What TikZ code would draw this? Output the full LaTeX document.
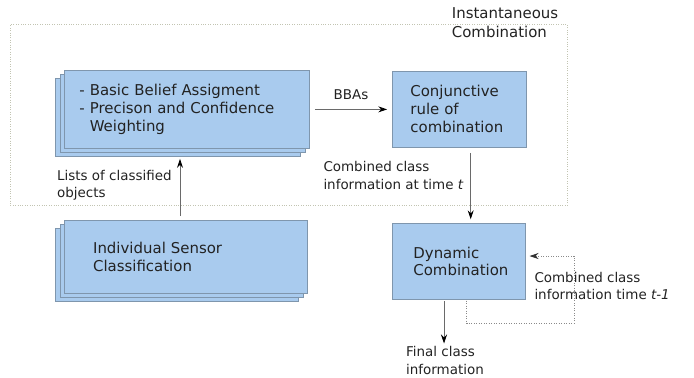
\documentclass[tikz,border=0pt]{standalone}
\usepackage{fontspec}
\setmainfont{DejaVu Sans}
\usetikzlibrary{shadows,arrows.meta,calc}
\definecolor{boxfill}{HTML}{A9CBEE}
\definecolor{boxdraw}{HTML}{7F96AD}
\definecolor{framec}{HTML}{C2C4B2}
\definecolor{linec}{HTML}{6A6A6A}
\definecolor{fbc}{HTML}{8A8A8A}
\definecolor{txt}{HTML}{222222}
\newcommand\boxfont{\fontsize{15}{18}\selectfont}
\newcommand\lblfont{\fontsize{13.5}{17.8}\selectfont}
\newcommand\ttlfont{\fontsize{15}{19}\selectfont}
\begin{document}
\begin{tikzpicture}[x=1bp,y=-1bp,
  box/.style={draw=boxdraw, fill=boxfill, line width=0.8bp, align=left, font=\boxfont, text=txt, anchor=north west},
  stack/.style={box, double copy shadow={shadow xshift=-4.5bp, shadow yshift=-4bp, fill=boxfill, draw=boxdraw, line width=0.8bp}},
  lbl/.style={inner sep=0pt, anchor=north west, align=left, font=\lblfont, text=txt},
  arr/.style={draw=linec, line width=0.8bp, -{Stealth[length=9bp,width=6bp,inset=3bp,color=black]}},
  fb/.style={draw=fbc, line width=0.8bp, dash pattern=on 1bp off 1.5bp, -{Stealth[length=9bp,width=6bp,inset=3bp,color=black!80]}},
  framebox/.style={draw=framec, line width=0.8bp, dash pattern=on 0.8bp off 1.6bp, inner sep=0pt, anchor=north west},
]
\useasboundingbox (0,0) rectangle (694,377);

% frame of the instantaneous combination
\node[framebox, minimum width=557bp, minimum height=181bp] (frame) at (10,24) {};
\node[inner sep=0pt, anchor=north west, align=left, font=\ttlfont, text=txt] (title) at (451.7,7.1) {Instantaneous\\Combination};

% boxes
\node[stack, minimum width=245bp, minimum height=78bp, inner xsep=15bp, text width=215bp] (bba) at (64,70)
  {- Basic Belief Assigment\\- Precison and Confidence\\\phantom{- }Weighting};
\node[box, minimum width=134.3bp, minimum height=76bp, inner xsep=18.3bp, text width=97.7bp] (conj) at (391.7,70.7)
  {Conjunctive\\rule of\\combination};
\node[box, minimum width=133bp, minimum height=76.6bp, inner xsep=21.3bp, text width=90.4bp] (dyn) at (391.7,222.7)
  {Dynamic\\Combination};
\node[stack, minimum width=243bp, minimum height=73.3bp, inner xsep=28.7bp, text width=185.6bp] (sens) at (64,220)
  {Individual Sensor\\Classification};

% connectors
\draw[arr] ($(bba.east)+(5,0)$) -- node[midway, above=9bp, inner sep=0pt, font=\lblfont, text=txt] (bbas) {BBAs} ($(bba.east -| conj.west)+(-4.5,0)$);
\draw[arr] ($(conj.south west)+(79,5.3)$) -- ($(dyn.north west)+(79,-3.4)$);
\draw[arr] ($(sens.north west)+(116,-4)$) -- ($(bba.south west)+(116,10)$);

\coordinate (f1) at ($(dyn.south west)+(75,0.5)$);
\coordinate (f2) at ($(dyn.south west)+(75,23.4)$);
\coordinate (f3) at ($(dyn.south east)+(48.4,23.4)$);
\coordinate (f4) at ($(dyn.north east)+(48.4,33.3)$);
\coordinate (f5) at ($(dyn.north east)+(4,33.3)$);
\draw[fb] (f1) -- (f2) -- (f3) -- (f4) -- (f5);

\coordinate (fin) at ($(dyn.south west)+(52.3,43.4)$);
\draw[arr] ($(dyn.south west)+(52.3,1)$) -- (fin);

% labels
\node[lbl] (lists) at (57,169.7) {Lists of classified\\objects};
\node[lbl] (cct) at (323.3,161.4) {Combined class\\information at time \textit{t}};
\node[lbl] (cct1) at (534.3,271.7) {Combined class\\information time \textit{t-1}};
\node[lbl] (final) at (406,346.4) {Final class\\information};
\end{tikzpicture}
\end{document}
